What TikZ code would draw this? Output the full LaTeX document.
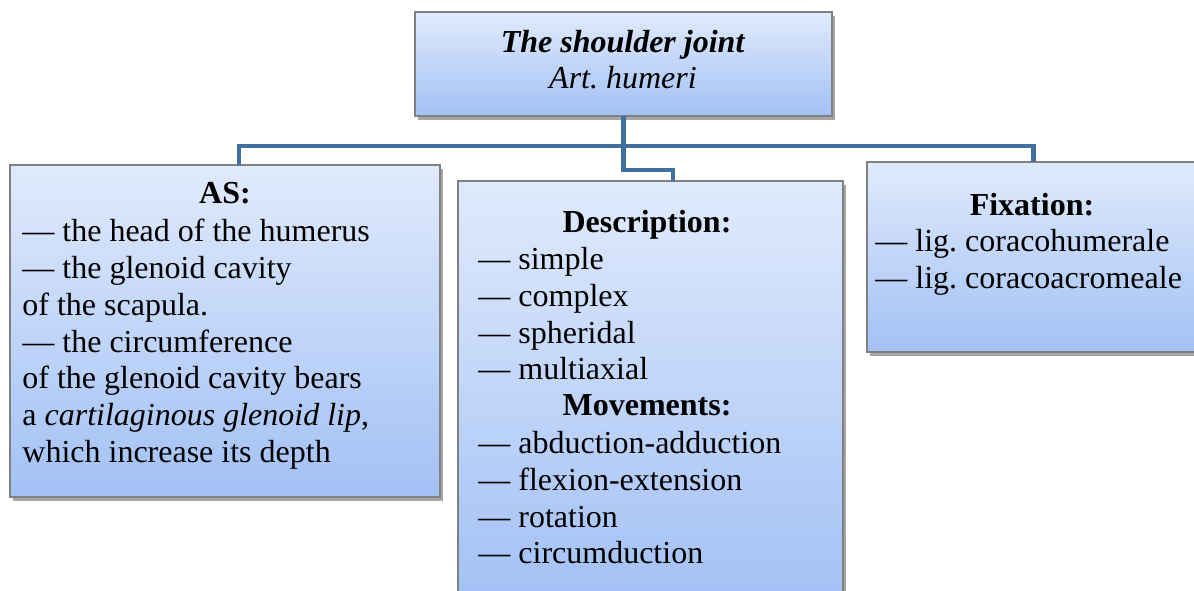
\documentclass[tikz,border=0pt]{standalone}
\usepackage{fontspec}
\setmainfont{Liberation Serif}[
  BoldFont={Liberation Serif Bold},
  ItalicFont={Liberation Serif Italic},
  BoldItalicFont={Liberation Serif Bold Italic}]
\usetikzlibrary{shadows,calc}

\definecolor{boxtop}{RGB}{224,234,252}
\definecolor{boxbottom}{RGB}{162,193,245}
\definecolor{boxedge}{RGB}{128,128,128}
\definecolor{linkblue}{RGB}{65,112,158}

\tikzset{
  panel/.style={draw=boxedge, line width=0.6pt, top color=boxtop, bottom color=boxbottom,
    inner sep=0pt, outer sep=0pt, anchor=north west,
    drop shadow={shadow xshift=1.5pt, shadow yshift=-2pt, fill=black, opacity=0.35}},
  link/.style={draw=linkblue, line width=2.3pt, line join=miter},
  txt/.style={inner sep=0pt, font=\fontsize{16}{18.35}\selectfont},
  listtxt/.style={txt, align=left, anchor=north west},
}

\begin{document}
\begin{tikzpicture}[x=0.5pt, y=-0.5pt]
  \path[use as bounding box, clip] (0,0) rectangle (1194,590);
  \fill[white] (0,0) rectangle (1194,590);

  % boxes
  \node[panel, minimum width=208.5pt, minimum height=52pt] (top) at (415,12) {};
  \node[panel, minimum width=215pt, minimum height=166pt] (as) at (10,165) {};
  \node[panel, minimum width=192.5pt, minimum height=209.5pt] (desc) at (458,181) {};
  \node[panel, minimum width=166.5pt, minimum height=95pt] (fix) at (867,162) {};

  % tree connectors
  \draw[link] (top.south) -- ++(0,-15pt) -| ([xshift=7pt]as.north);
  \draw[link] (top.south) -- ++(0,-15pt) -| (fix.north);
  \draw[link] (top.south) -- ++(0,-27pt) -| ([xshift=11.25pt]desc.north);

  % title
  \node[txt, anchor=base] (t1) at (623,52) {\textbf{\textit{The shoulder joint}}};
  \node[txt, anchor=base] (t2) at (623,88) {\textit{Art.\ humeri}};

  % articular surfaces
  \node[txt, anchor=base] (ash) at (225,203) {\textbf{AS:}};
  \node[listtxt] (asl) at (22,219) {— the head of the humerus\\
    — the glenoid cavity\\
    of the scapula.\\
    — the circumference\\
    of the glenoid cavity bears\\
    a \textit{cartilaginous glenoid lip},\\
    which increase its depth};

  % description and movements
  \node[txt, anchor=base] (dh) at (647,232) {\textbf{Description:}};
  \node[listtxt] (dl) at (478,247) {— simple\\ — complex\\ — spheridal\\ — multiaxial};
  \node[txt, anchor=base] (mh) at (647,415) {\textbf{Movements:}};
  \node[listtxt] (ml) at (478,431) {— abduction-adduction\\ — flexion-extension\\ — rotation\\ — circumduction};

  % fixation
  \node[txt, anchor=base] (fh) at (1032,215) {\textbf{Fixation:}};
  \node[listtxt] (fl) at (875,229) {— lig.\ coracohumerale\\ — lig.\ coracoacromeale};
\end{tikzpicture}
\end{document}
